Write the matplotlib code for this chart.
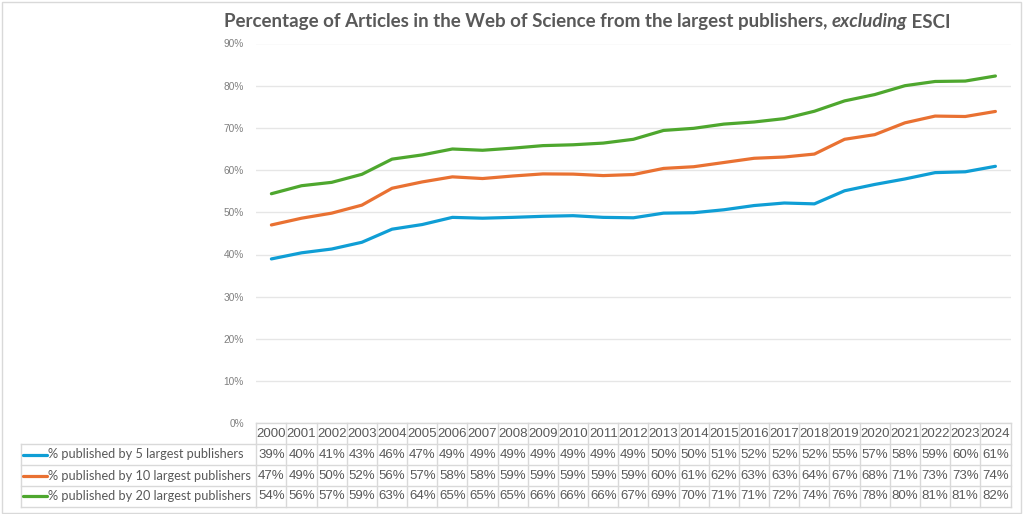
import numpy as np
import matplotlib
matplotlib.use('Agg')
import matplotlib.pyplot as plt
from matplotlib.transforms import blended_transform_factory
from matplotlib.patches import Rectangle

years = list(range(2000, 2025))
top5 = [38.95, 40.4, 41.3, 42.9, 46.0, 47.1, 48.8, 48.6, 48.8, 49.05, 49.2, 48.8, 48.7,
        49.8, 49.9, 50.6, 51.6, 52.2, 52.0, 55.1, 56.6, 57.9, 59.4, 59.6, 60.9]
top10 = [47.0, 48.6, 49.8, 51.7, 55.7, 57.2, 58.4, 58.0, 58.6, 59.1, 59.05, 58.7, 58.95,
         60.4, 60.8, 61.8, 62.8, 63.1, 63.8, 67.3, 68.4, 71.2, 72.8, 72.7, 73.9]
top20 = [54.4, 56.3, 57.1, 59.0, 62.6, 63.6, 65.0, 64.7, 65.2, 65.8, 66.0, 66.4, 67.3,
         69.4, 69.9, 70.9, 71.4, 72.2, 73.95, 76.4, 77.9, 80.0, 81.0, 81.1, 82.3]
labels = ['% published by 5 largest publishers',
          '% published by 10 largest publishers',
          '% published by 20 largest publishers']
colors = ['#0F9ED5', '#E97132', '#4EA72E']
series = [top5, top10, top20]

W, H = 1024, 514
fig = plt.figure(figsize=(W / 100, H / 100), dpi=100)
fig.patch.set_facecolor('white')

# pixel layout
ax_l, ax_r = 256.3, 1010.5
ax_top, ax_bot = 43.5, 423.3
ax = fig.add_axes([ax_l / W, 1 - ax_bot / H, (ax_r - ax_l) / W, (ax_bot - ax_top) / H])

x = np.arange(len(years))
for s, c, lab in zip(series, colors, labels):
    ax.plot(x, np.array(s) / 100, color=c, lw=2.3, label=lab, solid_capstyle='round')

ax.set_xlim(-0.5, len(years) - 0.5)
ax.set_ylim(0, 0.9)
ax.set_yticks(np.arange(0, 0.91, 0.1))
ax.set_yticklabels(['%d%%' % v for v in range(0, 91, 10)], color='#7f7f7f',
                   fontsize=7.3, family='Liberation Sans')
ax.tick_params(axis='y', length=0, pad=9)
ax.set_xticks([])
ax.grid(axis='y', color='#e6e6e6', lw=1)
ax.set_axisbelow(True)
for sp in ax.spines.values():
    sp.set_visible(False)

# data table under the plot
axh = ax_bot - ax_top
rows_px = [423.3, 444, 465, 486, 506.7]
rows = [(ax_bot - p) / axh for p in rows_px]
tr = blended_transform_factory(ax.transData, ax.transAxes)
trf = blended_transform_factory(fig.transFigure, ax.transAxes)
gc = '#d9d9d9'
tc = '#595959'
n = len(years)
# vertical lines for year columns
for i in range(n + 1):
    ax.plot([i - 0.5, i - 0.5], [rows[0], rows[-1]], color=gc, lw=1, transform=tr, clip_on=False)
for r in rows:
    ax.plot([-0.5, n - 0.5], [r, r], color=gc, lw=1, transform=tr, clip_on=False)
# legend column
lx0 = 20.7 / W
lx1 = ax_l / W
for r in rows[1:]:
    ax.plot([lx0, lx1], [r, r], color=gc, lw=1, transform=trf, clip_on=False)
ax.plot([lx0, lx0], [rows[1], rows[-1]], color=gc, lw=1, transform=trf, clip_on=False)

for i, yr in enumerate(years):
    ax.text(i, (rows[0] + rows[1]) / 2, str(yr), transform=tr, ha='center', va='center',
            fontsize=9.5, color=tc, family='Liberation Sans')
for k, (s, c, lab) in enumerate(zip(series, colors, labels)):
    yc = (rows[k + 1] + rows[k + 2]) / 2
    for i, v in enumerate(s):
        ax.text(i, yc, '%d%%' % int(round(v)), transform=tr, ha='center', va='center',
                fontsize=9.5, color=tc, family='Liberation Sans')
    ax.plot([22.5 / W, 46.5 / W], [yc, yc], color=c, lw=2.3, transform=trf, clip_on=False,
            solid_capstyle='round')
    ax.text(48.5 / W, yc, lab, transform=trf, ha='left', va='center', fontsize=9.2,
            color=tc, family='Lato')

# title assembled from normal + italic parts
title_parts = [('Percentage of Articles in the Web of Science from the largest publishers, ', 'normal'),
               ('excluding', 'italic'), (' ESCI', 'normal')]
renderer = fig.canvas.get_renderer()
texts = []
total = 0
for s, st in title_parts:
    t = fig.text(0, 1 - 22 / H, s, ha='left', va='center', fontsize=13.5, fontweight='bold',
                 style=st, color=tc, family='Lato')
    w = t.get_window_extent(renderer).width
    texts.append((t, w))
    total += w
xcur = 587 - total / 2
for t, w in texts:
    t.set_x(xcur / W)
    xcur += w

fig.patches.append(Rectangle((1.5 / W, 1.5 / H), 1019 / W, 511 / H, transform=fig.transFigure,
                             fill=False, edgecolor='#d9d9d9', lw=1))

fig.savefig('out.png', dpi=100)
